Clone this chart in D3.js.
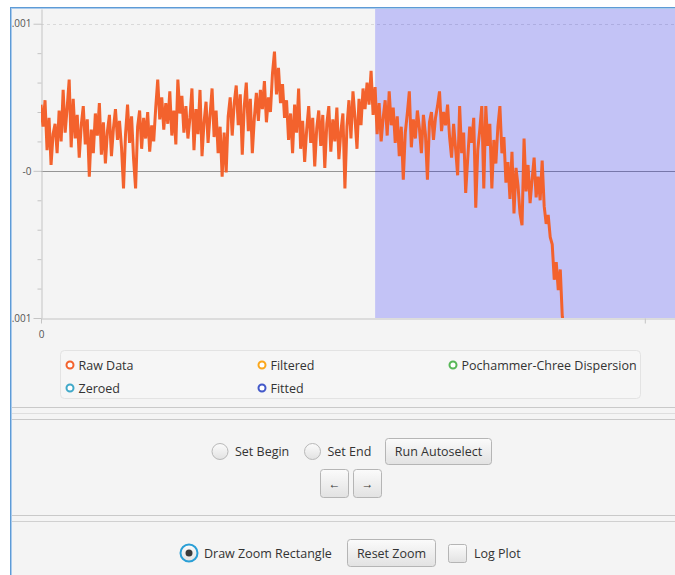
<!DOCTYPE html>
<html>
<head>
<meta charset="utf-8">
<script src="https://cdnjs.cloudflare.com/ajax/libs/d3/7.8.5/d3.min.js"></script>
<style>
  html, body { margin: 0; padding: 0; background: #fff; overflow: hidden; }
  svg { display: block; font-family: "Open Sans", "Noto Sans", sans-serif; }
</style>
</head>
<body>
<div id="container"></div>
<script>
// raw signal, one value per sample, in units of 1e-4
const rawData = [
  4.5, 3.0, 4.8, 1.4, 3.6, 0.4, 2.5, 3.2, 1.2, 4.1, 2.0, 5.5, 2.6, 4.3, 6.2, 1.6, 4.9, 2.2, 3.8, 0.9,
  3.1, 4.4, 1.8, 3.5, -0.4, 2.8, 1.2, 3.9, 2.4, 4.6, 1.1, 3.3, 0.5, 2.7, 3.8, 1.0, 2.9, 4.2, 2.1, 3.4,
  1.6, -1.2, 2.5, 4.5, 1.9, 3.7, 0.8, -1.2, 3.0, 4.1, 1.5, 3.6, 2.2, 4.0, 1.3, 3.1, 2.0, 4.3, 6.2, 3.5,
  5.0, 2.8, 4.6, 3.2, 5.4, 2.4, 4.1, 1.8, 6.2, 3.9, 5.1, 2.6, 4.4, 2.2, 3.6, 5.6, 1.4, 4.2, 2.5, 5.5,
  1.0, 3.3, 4.7, 1.9, 3.8, 5.6, 2.3, 4.1, 1.2, 3.0, -0.4, 2.6, -0.1, 3.7, 5.0, 2.4, 4.6, 5.8, 3.1, 5.2,
  1.1, 4.4, 6.0, 2.7, 4.9, 1.2, 3.6, 5.3, 3.4, 5.5, 4.2, 6.1, 3.3, 5.0, 4.0, 6.6, 8.1, 5.2, 7.0, 4.6,
  5.9, 3.6, 4.8, 2.1, 3.9, 1.2, 4.5, 2.6, 5.6, 1.5, 3.4, 0.6, 2.8, 4.4, 1.9, 3.6, 0.3, 2.9, 4.1, 1.7,
  3.8, 0.2, 3.2, 4.4, 1.3, 3.5, 2.0, 4.3, 0.8, 2.7, 3.9, -1.2, 3.0, 4.8, 2.2, 5.4, 3.6, 1.5, 4.9, 3.1,
  5.6, 4.2, 6.0, 4.5, 6.8, 3.8, 5.7, 2.5, 4.6, 2.0, 3.6, 4.8, 2.4, 5.4, 3.1, 4.3, 1.9, 3.7, 1.0, 3.0,
  -0.6, 2.6, 3.9, 5.4, 1.6, 3.5, 2.2, 4.1, 2.9, 1.2, 3.8, 2.5, -0.6, 3.3, 4.0, 2.1, 3.6, 4.4, 5.4, 2.7,
  4.0, 3.1, 4.5, 2.3, 0.9, 3.2, 1.5, -0.3, 4.4, 1.2, 2.6, -1.5, 0.8, 3.0, 1.9, 3.6, -2.5, 1.4, 2.8, 4.4,
  -1.2, 4.4, 1.7, 3.2, -1.2, 2.1, 0.5, 3.0, 4.4, 1.2, 2.3, -0.8, 0.6, -1.9, 1.3, -2.9, 0.2, -1.0, -2.9, -3.7,
  2.2, -1.4, 0.4, -2.2, -0.6, 0.9, -1.8, -0.4, -2.0, 0.7, -2.4, -3.6, -3.0, -4.5, -5.0, -7.4, -6.2, -8.1, -6.7, -9.9,
  -10.8, -11.5
];

const yTicks = [-0.001, 0, 0.001];
const yTickLabels = ["-0.001", "-0", "0.001"];
const xTicks = [0, 300];
const xTickLabels = ["0", ""];

const legendNames = ["Raw Data", "Filtered", "Pochammer-Chree Dispersion", "Zeroed", "Fitted"];
const legendColors = ["#f3622d", "#fba71b", "#57b757", "#41a9c9", "#4258c9"];

// sample where the zoom rectangle starts
const selectionStart = 166;


const W = 675, H = 575;
const plot = { left: 41, right: 675, top: 9, bottom: 318 };

const svg = d3.select("#container")
  .append("svg")
  .attr("width", W)
  .attr("height", H);

const defs = svg.append("defs");
const grad = defs.append("linearGradient")
  .attr("id", "btnGrad")
  .attr("x1", "0%").attr("y1", "0%").attr("x2", "0%").attr("y2", "100%");
grad.append("stop").attr("offset", "0%").attr("stop-color", "#fbfbfb");
grad.append("stop").attr("offset", "100%").attr("stop-color", "#e2e2e2");

defs.append("clipPath").attr("id", "plotClip")
  .append("rect")
  .attr("x", plot.left).attr("y", plot.top)
  .attr("width", plot.right - plot.left).attr("height", plot.bottom - plot.top);

// window background
svg.append("rect")
  .attr("x", 10).attr("y", 7)
  .attr("width", W).attr("height", H)
  .attr("fill", "#f4f4f4");

const xScale = d3.scaleLinear()
  .domain([0, 315])
  .range([plot.left, plot.right]);
const yScale = d3.scaleLinear()
  .domain([-0.001, 0.0011])
  .range([plot.bottom, plot.top]);

const chart = svg.append("g").attr("id", "chart");

// dashed horizontal grid (only the top one shows)
chart.selectAll("line.grid")
  .data(yTicks.filter(d => d > 0))
  .enter()
  .append("line")
  .attr("class", "grid")
  .attr("x1", plot.left).attr("x2", plot.right)
  .attr("y1", d => Math.round(yScale(d)) + 0.5)
  .attr("y2", d => Math.round(yScale(d)) + 0.5)
  .attr("stroke", "#d9d9d9")
  .attr("stroke-dasharray", "3,3");

// zero line
chart.append("line")
  .attr("x1", plot.left).attr("x2", plot.right)
  .attr("y1", Math.round(yScale(0)) + 0.5)
  .attr("y2", Math.round(yScale(0)) + 0.5)
  .attr("stroke", "#959595");

// zoom selection rectangle
chart.append("rect")
  .attr("x", xScale(selectionStart))
  .attr("y", plot.top)
  .attr("width", plot.right - xScale(selectionStart))
  .attr("height", plot.bottom - plot.top)
  .attr("fill", "rgba(0,0,255,0.2)");

// y axis
const yAxis = d3.axisLeft(yScale)
  .tickValues(yTicks)
  .tickFormat((d, i) => yTickLabels[i])
  .tickSize(8)
  .tickPadding(2)
  .tickSizeOuter(0);
const yMinor = d3.axisLeft(yScale)
  .tickValues(d3.range(-10, 11, 2).filter(v => v % 10 !== 0).map(v => v * 1e-4))
  .tickFormat("")
  .tickSize(4)
  .tickSizeOuter(0);

chart.append("g")
  .attr("id", "y-axis-minor")
  .attr("transform", "translate(" + (plot.left + 0.5) + ",0)")
  .call(yMinor)
  .call(g => g.select(".domain").remove());

chart.append("g")
  .attr("id", "y-axis")
  .attr("transform", "translate(" + (plot.left + 0.5) + ",0)")
  .call(yAxis);

// x axis
const xAxis = d3.axisBottom(xScale)
  .tickValues(xTicks)
  .tickFormat((d, i) => xTickLabels[i])
  .tickSize(5)
  .tickPadding(7)
  .tickSizeOuter(0);

chart.append("g")
  .attr("id", "x-axis")
  .attr("transform", "translate(0," + (plot.bottom + 0.5) + ")")
  .call(xAxis);

chart.selectAll(".domain, .tick line").attr("stroke", "#c4c4c4");
chart.selectAll(".tick text")
  .attr("fill", "#555")
  .style("font-size", "10px")
  .style("font-family", "'Open Sans', sans-serif");

// raw data line
const line = d3.line()
  .x((d, i) => xScale(i))
  .y(d => yScale(d * 1e-4));

chart.append("path")
  .datum(rawData)
  .attr("clip-path", "url(#plotClip)")
  .attr("d", line)
  .attr("fill", "none")
  .attr("stroke", "#f3622d")
  .attr("stroke-width", 3)
  .attr("stroke-linejoin", "bevel");

// legend
const legend = svg.append("g").attr("id", "legend");
legend.append("rect")
  .attr("x", 60.5).attr("y", 350.5)
  .attr("width", 580).attr("height", 48)
  .attr("rx", 4)
  .attr("fill", "#f6f6f6")
  .attr("stroke", "#e3e3e3");

const legendX = [70, 262, 453];
const legendY = [365, 388];
const items = legend.selectAll("g.item")
  .data(legendNames)
  .enter()
  .append("g")
  .attr("class", "item")
  .attr("transform", (d, i) => "translate(" + legendX[i % 3] + "," + legendY[Math.floor(i / 3)] + ")");
items.append("circle")
  .attr("r", 3.5)
  .attr("fill", "#fff")
  .attr("stroke", (d, i) => legendColors[i])
  .attr("stroke-width", 2);
items.append("text")
  .attr("x", 8.5)
  .attr("dy", "0.36em")
  .attr("fill", "#333")
  .style("font-size", "12.5px")
  .text(d => d);

// pane dividers
const dividers = [[407.5, "#c9c9c9"], [413.5, "#dedede"], [419.5, "#c9c9c9"], [515.5, "#c9c9c9"], [521.5, "#d0d0d0"]];
svg.selectAll("line.divider")
  .data(dividers)
  .enter()
  .append("line")
  .attr("class", "divider")
  .attr("x1", 10).attr("x2", W)
  .attr("y1", d => d[0]).attr("y2", d => d[0])
  .attr("stroke", d => d[1]);

// controls
function button(x, y, w, h, label, size) {
  const g = svg.append("g");
  g.append("rect")
    .attr("x", x + 0.5).attr("y", y + 0.5)
    .attr("width", w).attr("height", h)
    .attr("rx", 3)
    .attr("fill", "url(#btnGrad)")
    .attr("stroke", "#b5b5b5");
  g.append("text")
    .attr("x", x + w / 2 + 0.5).attr("y", y + h / 2 + 0.5)
    .attr("dy", "0.36em")
    .attr("text-anchor", "middle")
    .attr("fill", "#333")
    .style("font-size", (size || 12.5) + "px")
    .text(label);
}

function radio(cx, cy, label, selected) {
  const g = svg.append("g");
  if (selected) {
    g.append("circle")
      .attr("cx", cx).attr("cy", cy).attr("r", 8.5)
      .attr("fill", "url(#btnGrad)")
      .attr("stroke", "#2a9fd6")
      .attr("stroke-width", 2);
    g.append("circle")
      .attr("cx", cx).attr("cy", cy).attr("r", 3.5)
      .attr("fill", "#3a3a3a");
  } else {
    g.append("circle")
      .attr("cx", cx).attr("cy", cy).attr("r", 8)
      .attr("fill", "url(#btnGrad)")
      .attr("stroke", "#b8b8b8");
  }
  g.append("text")
    .attr("x", cx + 15).attr("y", cy)
    .attr("dy", "0.36em")
    .attr("fill", "#333")
    .style("font-size", "12.5px")
    .text(label);
}

radio(220, 451.5, "Set Begin", false);
radio(312.5, 451.5, "Set End", false);
button(385, 438, 106, 26, "Run Autoselect");
button(320, 469, 28, 28, "\u2190", 12);
button(353, 469, 28, 28, "\u2192", 12);

radio(189, 553, "Draw Zoom Rectangle", true);
button(347, 539, 88, 27, "Reset Zoom");

// log plot checkbox
svg.append("rect")
  .attr("x", 448.5).attr("y", 544.5)
  .attr("width", 18).attr("height", 18)
  .attr("rx", 2)
  .attr("fill", "url(#btnGrad)")
  .attr("stroke", "#b5b5b5");
svg.append("text")
  .attr("x", 474).attr("y", 553.5)
  .attr("dy", "0.36em")
  .attr("fill", "#333")
  .style("font-size", "12.5px")
  .text("Log Plot");

// outside the window + its blue frame (clips the axis labels on the left)
svg.append("rect").attr("x", 0).attr("y", 0).attr("width", 10).attr("height", H).attr("fill", "#fff");
svg.append("rect").attr("x", 0).attr("y", 0).attr("width", W).attr("height", 7).attr("fill", "#fff");
svg.append("rect").attr("x", 10).attr("y", 7).attr("width", W).attr("height", 1).attr("fill", "#5d9bd6");
svg.append("rect").attr("x", 10).attr("y", 8).attr("width", W).attr("height", 1).attr("fill", "#a9caec");
svg.append("rect").attr("x", 10).attr("y", 7).attr("width", 1).attr("height", H).attr("fill", "#5d9bd6");
svg.append("rect").attr("x", 11).attr("y", 8).attr("width", 1).attr("height", H).attr("fill", "#a9caec");
</script>
</body>
</html>
